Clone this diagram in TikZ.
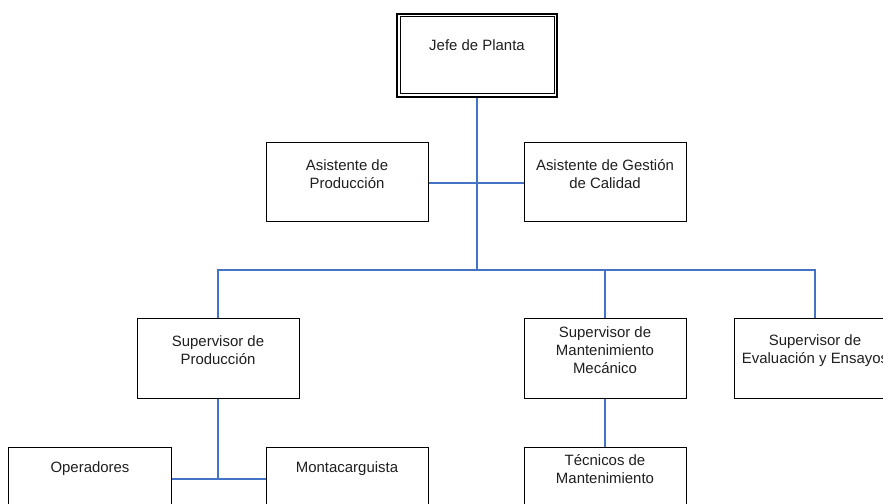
\documentclass[tikz,border=0pt]{standalone}
\usepackage{fontspec}
\setmainfont{Liberation Sans}
\begin{document}
\begin{tikzpicture}[x=1bp,y=-1bp,
  box/.style={draw=black, line width=1bp, minimum width=162bp, minimum height=79bp, inner sep=0pt, fill=white},
  txt/.style={font=\fontsize{15}{18}\selectfont, align=center, inner sep=0pt, text=black!88},
  conn/.style={draw={rgb,255:red,68;green,114;blue,196}, line width=1.3bp}]
\useasboundingbox (0,0) rectangle (883,504);
\clip (0,0) rectangle (883,504);
\fill[white] (0,0) rectangle (883,504);
% boxes
\node[box, line width=2bp, minimum width=160bp, minimum height=83bp] (jefe) at (477,55.5) {};
\draw[line width=1bp] ([shift={(4bp,-4bp)}]jefe.north west) rectangle ([shift={(-4bp,4bp)}]jefe.south east);
\node[box] (asp) at (347,182.5) {};
\node[box] (asg) at (605,182.5) {};
\node[box] (supp) at (218,358.5) {};
\node[box] (supm) at (605,358.5) {};
\node[box] (supe) at (815,358.5) {};
\node[box] (oper) at (90,486.5) {};
\node[box] (mont) at (347,486.5) {};
\node[box] (tec) at (605,486.5) {};
% texts
\node[txt] (t-jefe) at (477,45.5) {Jefe de Planta};
\node[txt] (t-asp) at (347,174) {Asistente de\\Producción};
\node[txt] (t-asg) at (605,174) {Asistente de Gestión\\de Calidad};
\node[txt] (t-supp) at (218,350.5) {Supervisor de\\Producción};
\node[txt] (t-supm) at (605,350) {Supervisor de\\Mantenimiento\\Mecánico};
\node[txt] (t-supe) at (815,350.5) {Supervisor de\\Evaluación y Ensayos};
\node[txt] (t-oper) at (90,469) {Operadores};
\node[txt] (t-mont) at (347,469) {Montacarguista};
\node[txt] (t-tec) at (605,469.5) {Técnicos de\\Mantenimiento};
% connectors
\coordinate (bus) at (0,270);
\coordinate (low) at (0,479);
\coordinate (mid) at (0,183);
\draw[conn] (jefe.south) -- (jefe.south |- bus);
\draw[conn] (asp.east |- mid) -- (asg.west |- mid);
\draw[conn] (supp.north) -- (supp.north |- bus) -- (supe.north |- bus) -- (supe.north);
\draw[conn] (supm.north) -- (supm.north |- bus);
\draw[conn] (supp.south) -- (supp.south |- low);
\draw[conn] (oper.east |- low) -- (mont.west |- low);
\draw[conn] (supm.south) -- (tec.north);
\end{tikzpicture}
\end{document}
